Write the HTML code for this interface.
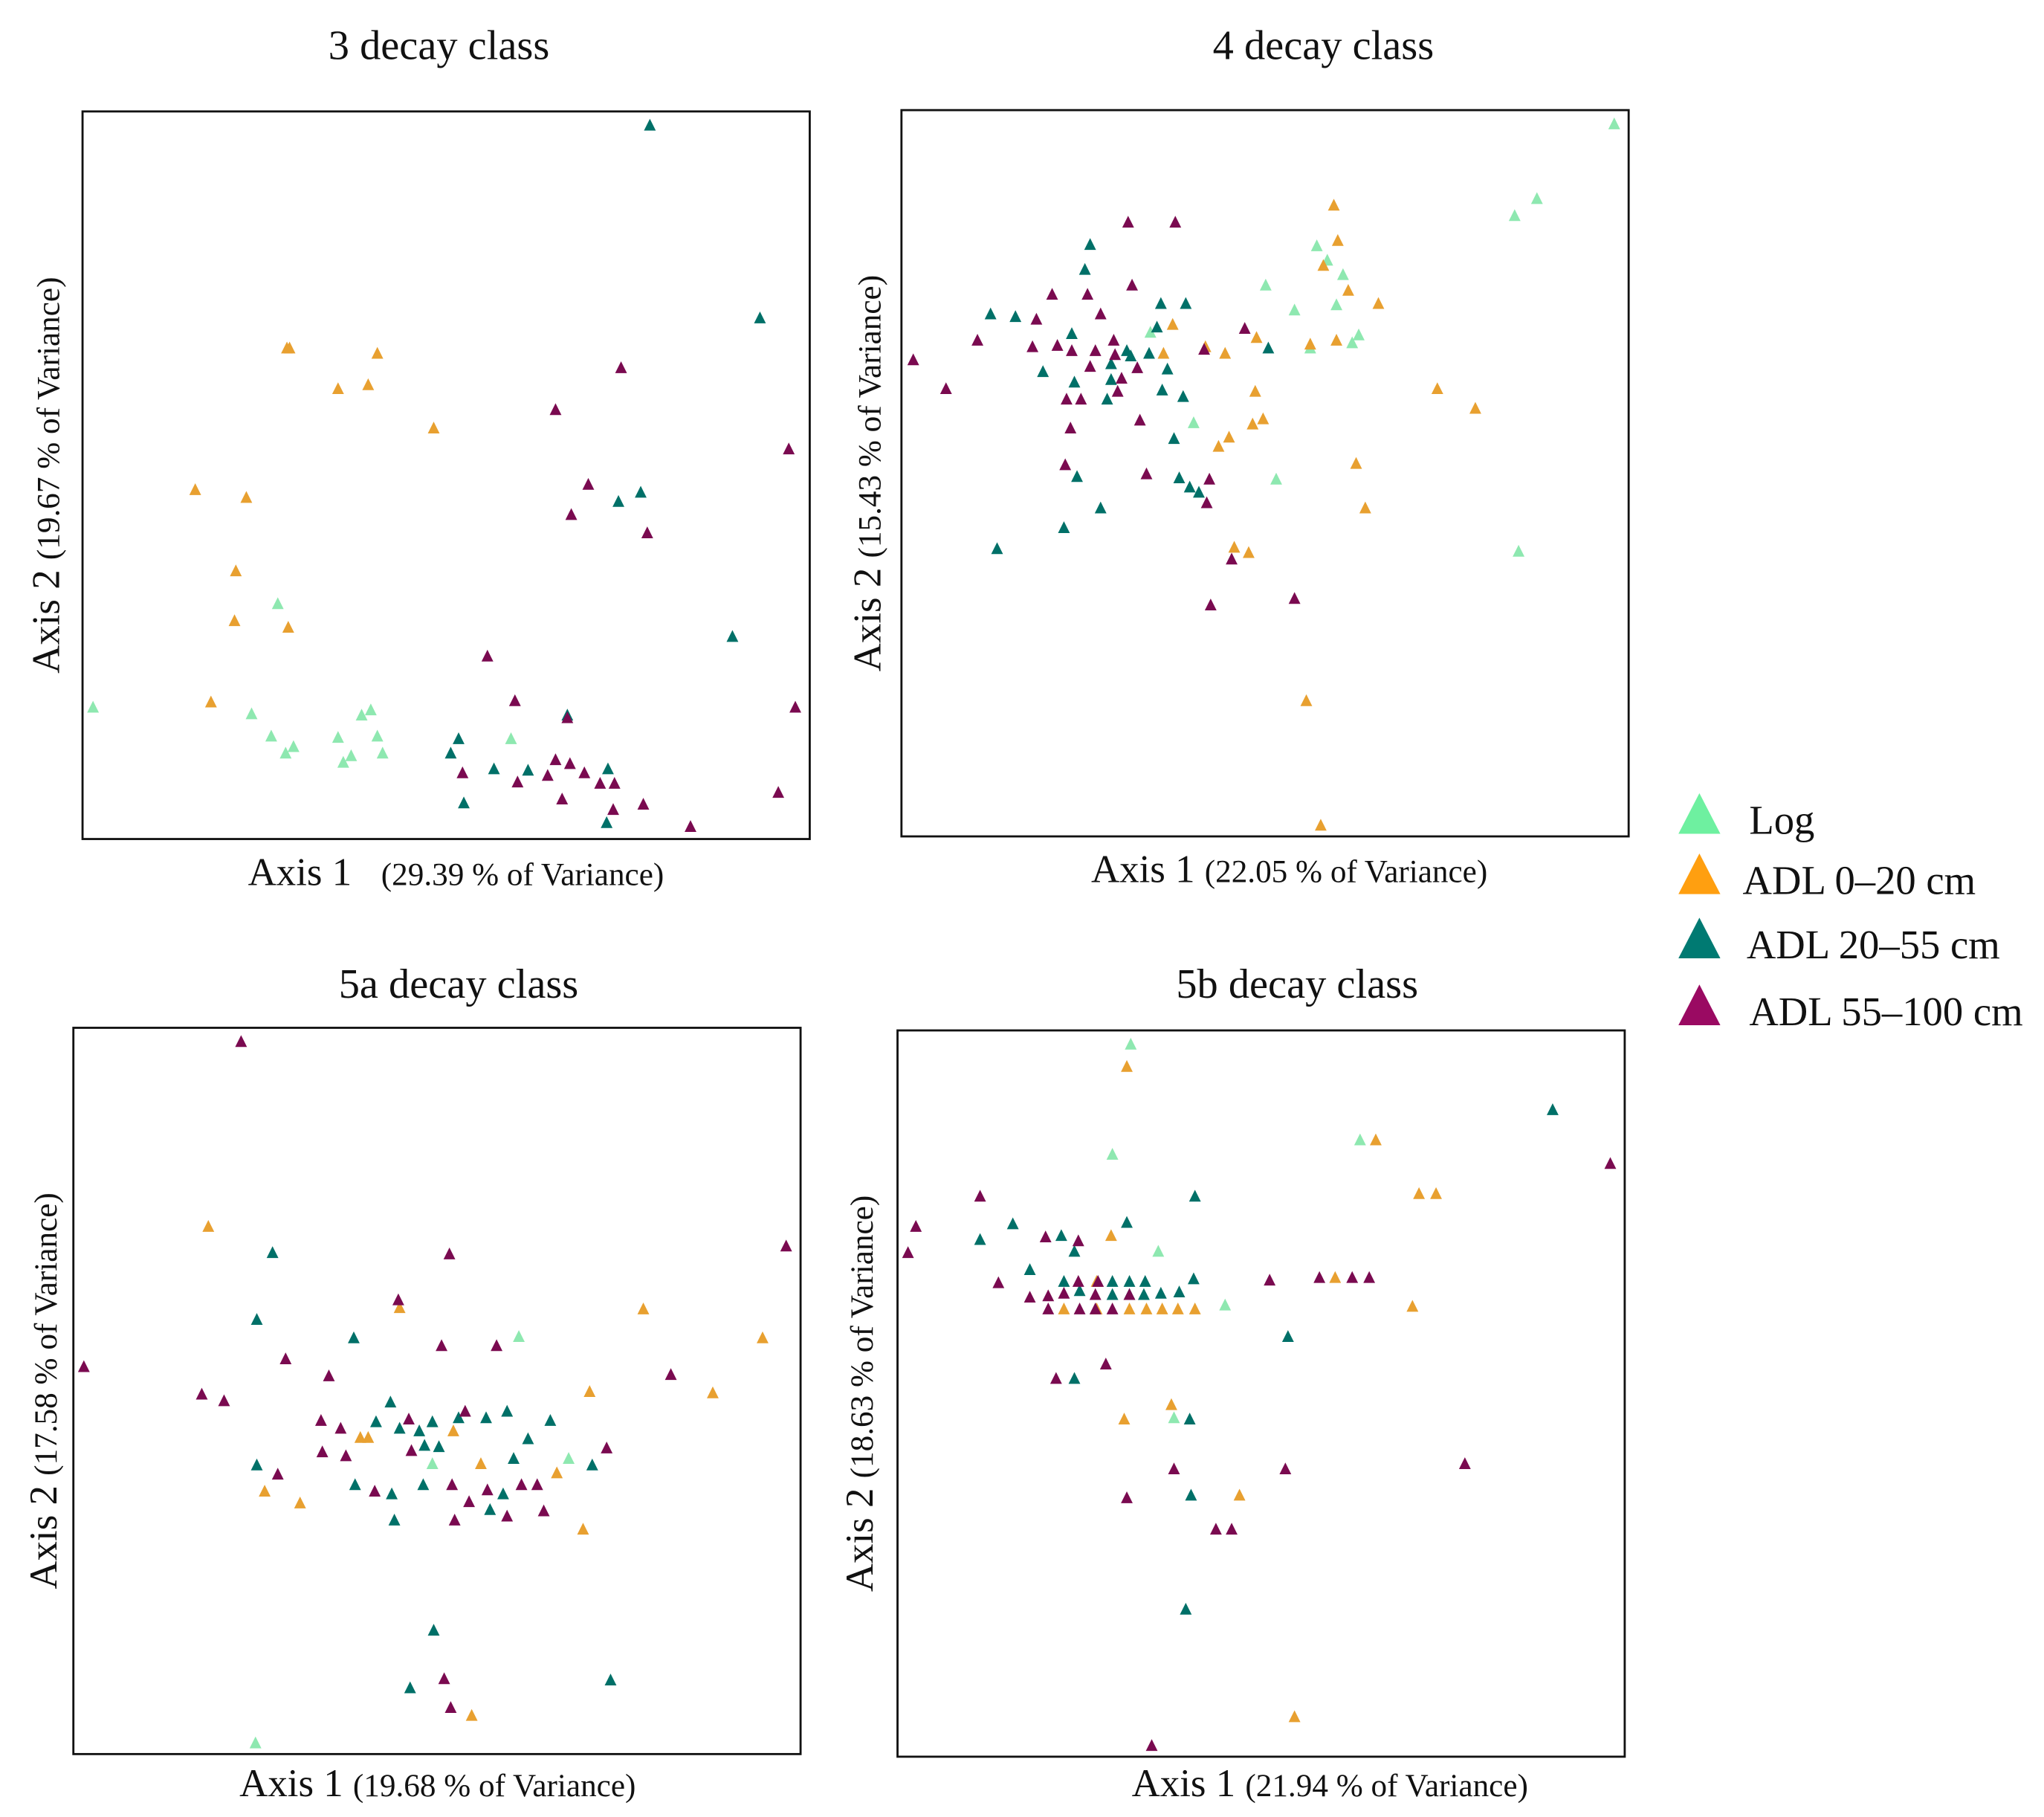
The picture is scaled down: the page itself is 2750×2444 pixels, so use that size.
<!DOCTYPE html>
<html><head><meta charset="utf-8"><style>
html,body{margin:0;padding:0;background:#fff;}
svg{display:block;}
text{font-family:"Liberation Serif",serif;fill:#111;}
</style></head><body>
<svg id="chart" width="2750" height="2444" viewBox="0 0 1560 1386" preserveAspectRatio="none" xmlns="http://www.w3.org/2000/svg"></svg>
<script>
// Panel 1: 3 decay class (scores in plot units)
const p1Log=[[71,540],[192,545],[207,562],[218,575],[224,570],[212,461],[258,563],[262,582],[268,577],[276,546],[283,542],[288,562],[292,575],[390,564]];
const p1A=[[219,266],[221,266],[288,270],[258,297],[281,294],[331,327],[149,374],[188,380],[180,436],[179,474],[220,479],[161,536]];
const p1B=[[496,96],[580,243],[489,376],[472,383],[559,486],[344,575],[350,564],[377,587],[354,613],[403,588],[464,587],[463,628],[433,546]];
const p1C=[[474,281],[424,313],[602,343],[449,370],[436,393],[494,407],[372,501],[393,535],[433,548],[607,540],[353,590],[395,597],[418,592],[424,580],[429,610],[446,590],[458,598],[468,618],[469,598],[491,614],[527,631],[594,605],[435,583]];
// Panel 2: 4 decay class
const p2Log=[[1232,95],[1173,152],[1156,165],[1005,188],[1013,199],[966,218],[988,237],[1020,233],[1037,256],[1032,262],[1000,266],[974,366],[911,323],[1159,421],[878,254],[1025,210]];
const p2A=[[1018,157],[1021,184],[1010,203],[1029,222],[1052,232],[895,248],[959,258],[935,270],[1000,263],[1020,260],[1097,297],[1126,312],[958,299],[964,320],[956,324],[938,334],[930,341],[1035,354],[1042,388],[942,418],[953,422],[997,535],[1008,630],[888,270],[920,265]];
const p2B=[[832,187],[828,206],[756,240],[775,242],[818,255],[886,232],[905,232],[883,250],[860,268],[863,272],[848,278],[877,270],[891,282],[903,303],[887,298],[796,284],[820,292],[845,305],[896,335],[900,365],[908,372],[915,376],[822,364],[812,403],[840,388],[761,419],[968,266],[848,290]];
const p2C=[[861,170],[897,170],[803,225],[830,225],[864,218],[791,244],[807,264],[746,260],[697,275],[722,297],[788,265],[818,268],[836,268],[851,271],[868,281],[856,289],[832,280],[825,305],[814,305],[817,327],[853,299],[870,321],[919,267],[950,251],[813,355],[875,362],[923,366],[921,384],[940,427],[988,457],[924,462],[850,260],[840,240]];
// Panel 3: 5a decay class
const p3Log=[[396,1020],[434,1113],[330,1117],[195,1330]];
const p3A=[[159,936],[305,998],[491,999],[582,1021],[450,1062],[544,1063],[281,1097],[275,1097],[346,1092],[367,1117],[425,1124],[202,1138],[229,1147],[445,1167],[360,1309]];
const p3B=[[208,956],[196,1007],[270,1021],[298,1070],[287,1085],[330,1085],[320,1092],[305,1090],[350,1082],[371,1082],[387,1077],[420,1084],[403,1098],[324,1103],[335,1104],[392,1113],[196,1118],[271,1133],[299,1140],[323,1133],[374,1152],[384,1140],[301,1160],[452,1118],[331,1244],[313,1288],[466,1282]];
const p3C=[[184,795],[64,1043],[600,951],[343,957],[304,992],[218,1037],[251,1050],[337,1027],[379,1027],[154,1064],[171,1069],[512,1049],[245,1084],[260,1090],[246,1108],[264,1111],[312,1083],[355,1077],[314,1107],[463,1105],[212,1125],[286,1138],[345,1133],[358,1146],[347,1160],[372,1137],[398,1133],[410,1133],[415,1153],[387,1157],[339,1281],[344,1303]];
// Panel 4: 5b decay class
const p4Log=[[863,797],[849,881],[884,955],[935,996],[896,1082],[1038,870]];
const p4A=[[860,814],[848,943],[1050,870],[1083,911],[1096,911],[1078,997],[837,978],[812,999],[837,999],[887,999],[899,999],[912,999],[862,999],[894,1072],[858,1083],[946,1141],[988,1310],[1019,975],[875,999]];
const p4B=[[1185,847],[912,913],[860,933],[748,946],[773,934],[810,943],[820,955],[786,969],[812,978],[849,978],[862,978],[874,978],[886,987],[900,986],[911,976],[849,988],[862,988],[873,988],[824,985],[983,1020],[820,1052],[908,1083],[909,1141],[905,1228]];
const p4C=[[1229,888],[748,913],[699,936],[693,956],[798,944],[823,947],[762,979],[786,990],[800,989],[800,999],[812,987],[823,978],[836,988],[849,999],[824,999],[836,999],[862,988],[838,978],[969,977],[1007,975],[1032,975],[1045,975],[806,1052],[844,1041],[896,1121],[860,1143],[928,1167],[940,1167],[981,1121],[1118,1117],[879,1332]];
const seriesNames=["Log","ADL 0–20 cm","ADL 20–55 cm","ADL 55–100 cm"];
const titles=["3 decay class","4 decay class","5a decay class","5b decay class"];
const xPct=["(29.39 % of Variance)","(22.05 % of Variance)","(19.68 % of Variance)","(21.94 % of Variance)"];
const yPct=["(19.67 % of Variance)","(15.43 % of Variance)","(17.58 % of Variance)","(18.63 % of Variance)"];

const colors=["#8ee8b0","#e8a030","#007068","#7a0a50"];
const NS="http://www.w3.org/2000/svg";
const svg=document.getElementById('chart');
function mk(tag,attrs,parent){const e=document.createElementNS(NS,tag);for(const k in attrs)e.setAttribute(k,attrs[k]);(parent||svg).appendChild(e);return e;}
function tri(x,y,s,c,parent){return mk('polygon',{points:`${x},${y-s*0.6} ${x-s/2},${y+s*0.4} ${x+s/2},${y+s*0.4}`,fill:c},parent);}

const panels=[
 {box:[63,85,618,640],dom:[63,618,85,640],data:[p1Log,p1A,p1B,p1C],tx:335,ty:45,xl:348,xly:675,yl:35,gap:true},
 {box:[688,84,1243,638],dom:[688,1243,84,638],data:[p2Log,p2A,p2B,p2C],tx:1010,ty:45,xl:984,xly:673,yl:662},
 {box:[56,784,611,1338],dom:[56,611,784,1338],data:[p3Log,p3A,p3B,p3C],tx:350,ty:761,xl:334,xly:1370,yl:33},
 {box:[685,786,1240,1340],dom:[685,1240,786,1340],data:[p4Log,p4A,p4B,p4C],tx:990,ty:761,xl:1015,xly:1370,yl:656}
];
panels.forEach((p,i)=>{
  const g=mk('g',{});
  
  
  const [x0,y0,x1,y1]=p.box;
  const sx=v=>x0+(v-p.dom[0])/(p.dom[1]-p.dom[0])*(x1-x0);
  const sy=v=>y0+(v-p.dom[2])/(p.dom[3]-p.dom[2])*(y1-y0);
  const r=mk('rect',{x:x0,y:y0,width:x1-x0,height:y1-y0,fill:'none',stroke:'#111','stroke-width':1.6},g);
  
  
  const t=mk('text',{x:p.tx,y:p.ty,'text-anchor':'middle','font-size':32},g);
  t.textContent=titles[i];
  
  
  const xl=mk('text',{x:p.xl,y:p.xly,'text-anchor':'middle','font-size':30},g);
  xl.innerHTML='Axis 1'+(p.gap?'&#160;&#160;&#160;':' ')+'<tspan font-size="24.5">'+xPct[i]+'</tspan>';
  
  
  const cy=(y0+y1)/2;
  const yl=mk('text',{x:p.yl,y:cy,'text-anchor':'middle','font-size':30,transform:`rotate(-90 ${p.yl} ${cy})`,dy:10},g);
  yl.innerHTML='Axis 2 <tspan font-size="24.5">'+yPct[i]+'</tspan>';
  
  
  p.data.forEach((arr,si)=>{
    arr.forEach(d=>{
      const m=tri(sx(d[0]),sy(d[1]),9,colors[si],g);
      
      
    });
  });
});
// legend
const lg=mk('g',{});


const legY=[622,668,717,768];
const legX=[1335,1330,1333,1335];
const legC=["#6ef0a0","#ff9f10","#007a72","#9a0a62"];
seriesNames.forEach((n,i)=>{
  const e=mk('g',{},lg);
  
  
  mk('polygon',{points:`${1297},${legY[i]-17} ${1281},${legY[i]+14} ${1313},${legY[i]+14}`,fill:legC[i]},e);
  const t=mk('text',{x:legX[i],y:legY[i]+14,'font-size':31},e);
  t.textContent=n;
});
</script>
</body></html>
